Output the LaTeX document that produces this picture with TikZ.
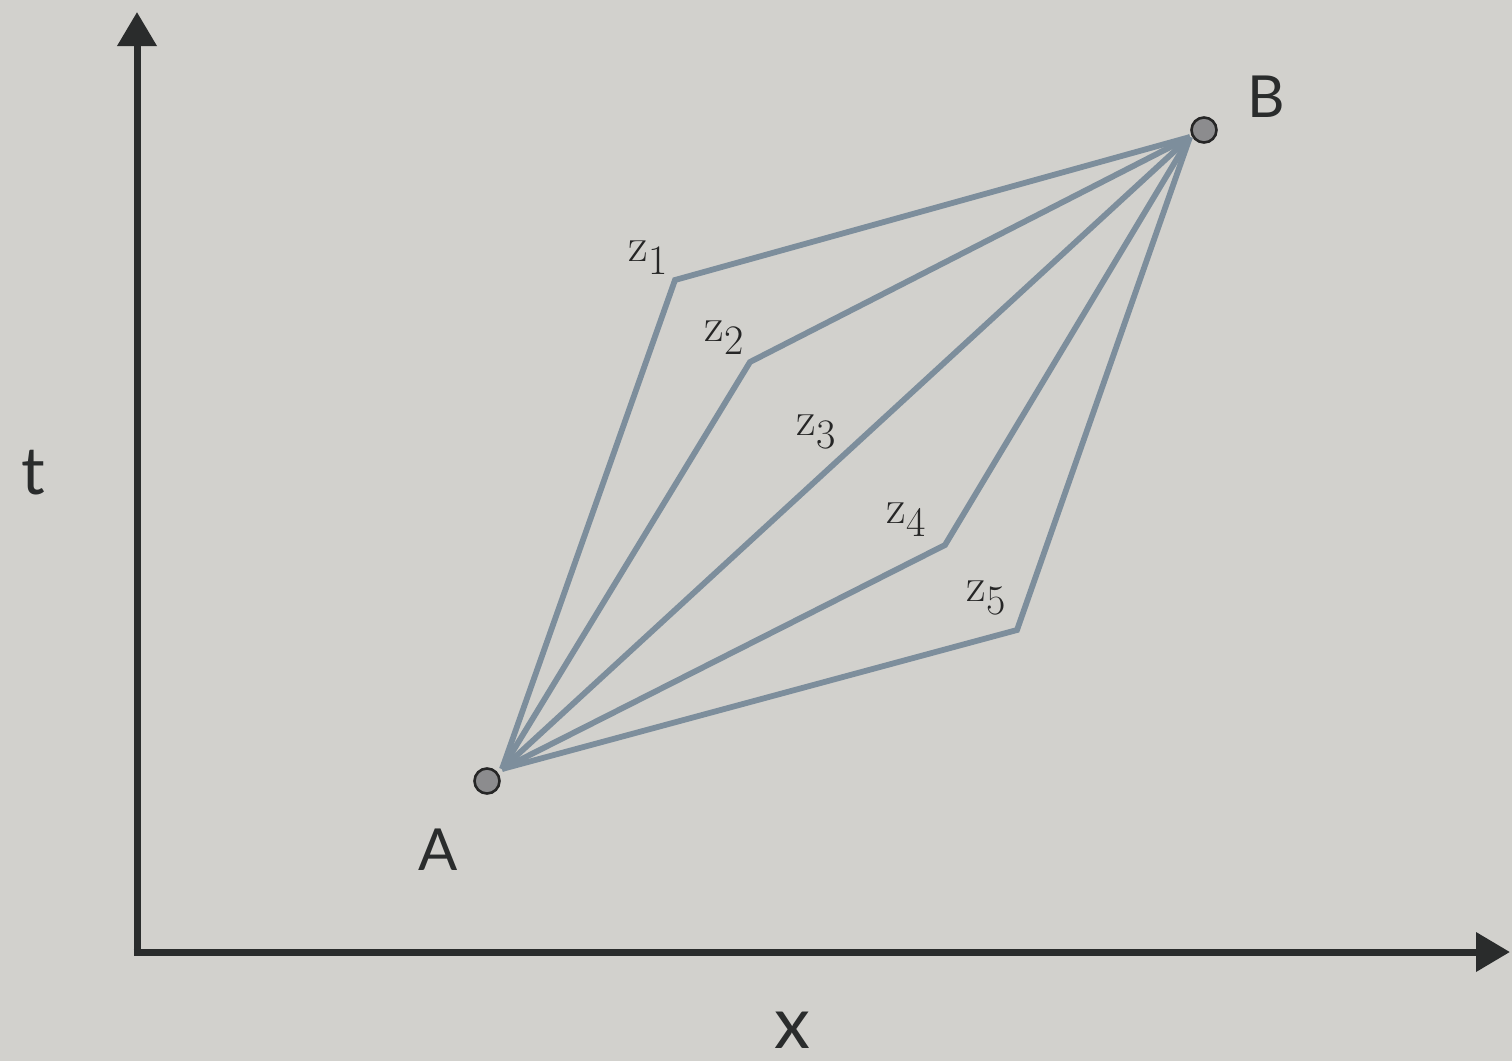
\documentclass[tikz,border=0pt]{standalone}
\usepackage{fontspec}
\setmainfont{Lato}
\newfontfamily\lmfont{Latin Modern Roman}
\usetikzlibrary{arrows.meta}
\definecolor{bgc}{HTML}{D2D1CD}
\definecolor{axc}{HTML}{2A2C2C}
\definecolor{pathc}{HTML}{7D8E9C}
\definecolor{dotc}{HTML}{8C8C8E}
\tikzset{
  axis/.style={line width=7pt, draw=axc, -{Triangle[length=34pt,width=38pt]}},
  worldline/.style={line width=5.8pt, draw=pathc, line join=miter},
  event/.style={circle, draw=black!85, line width=2.6pt, fill=dotc, minimum size=25pt, inner sep=0pt},
  biglabel/.style={font=\fontsize{58}{60}\selectfont, text=axc, inner sep=0pt},
  zlabel/.style={font=\lmfont\fontsize{48}{50}\selectfont, text=black!85, inner sep=0pt}
}
\newcommand{\zsub}[1]{z\raisebox{-13pt}{\fontsize{42}{42}\selectfont #1}}
\begin{document}
\begin{tikzpicture}[x=1pt,y=-1pt]
\useasboundingbox[fill=bgc] (0,0) rectangle (1512,1061);
% axes
\coordinate (O) at (137,952);
\coordinate (Ytop) at (137,12);
\coordinate (Xend) at (1510,952);
\draw[axis] (137,955.5) -- (Ytop);
\draw[axis] (133.5,952) -- (Xend);
% convergence points
\coordinate (a1) at (502,769);
\coordinate (b1) at (1190,137);
\coordinate (c1) at (675,280);
\coordinate (c2) at (750,362);
\coordinate (c4) at (945,545);
\coordinate (c5) at (1017,630);
\draw[worldline] (a1) -- (c1) -- (b1);
\draw[worldline] (a1) -- (c2) -- (b1);
\draw[worldline] (a1) -- (b1);
\draw[worldline] (a1) -- (c4) -- (b1);
\draw[worldline] (a1) -- (c5) -- (b1);
% events
\node[event] (A) at (487,781) {};
\node[event] (B) at (1204,130) {};
% labels
\node[biglabel] (Al) at (438,850) {A};
\node[biglabel] (Bl) at (1266,97) {B};
\node[biglabel, font=\fontsize{66}{66}\selectfont] (tl) at (33,473) {t};
\node[biglabel, font=\fontsize{72}{72}\selectfont] (xl) at (792,1030) {x};
\node[zlabel] (z1) at (648,258) {\zsub{1}};
\node[zlabel] (z2) at (724,338) {\zsub{2}};
\node[zlabel] (z3) at (816,432) {\zsub{3}};
\node[zlabel] (z4) at (906,520) {\zsub{4}};
\node[zlabel] (z5) at (986,598) {\zsub{5}};
\end{tikzpicture}
\end{document}
